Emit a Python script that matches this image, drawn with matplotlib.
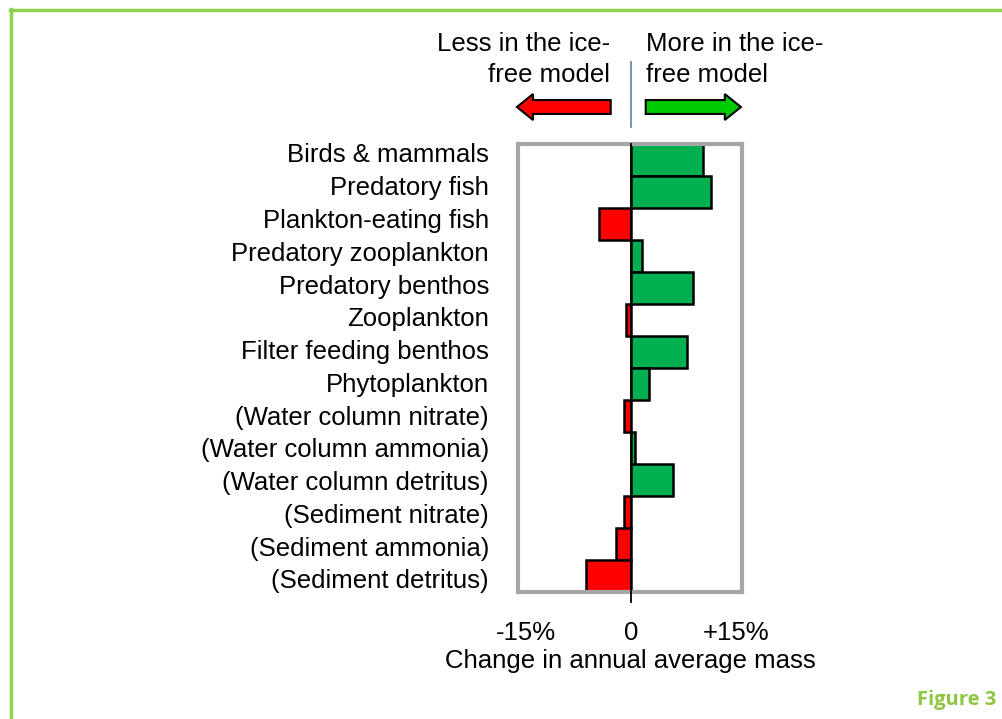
import matplotlib
matplotlib.use("Agg")
import matplotlib.pyplot as plt
from matplotlib.patches import FancyArrow
from matplotlib.lines import Line2D
from matplotlib.transforms import blended_transform_factory

plt.rcParams['font.family'] = ['Liberation Sans', 'DejaVu Sans']

categories = ["Birds & mammals", "Predatory fish", "Plankton-eating fish",
              "Predatory zooplankton", "Predatory benthos", "Zooplankton",
              "Filter feeding benthos", "Phytoplankton",
              "(Water column nitrate)", "(Water column ammonia)",
              "(Water column detritus)", "(Sediment nitrate)",
              "(Sediment ammonia)", "(Sediment detritus)"]
change = [10.3, 11.5, -4.6, 1.6, 8.9, -0.7, 8.0, 2.6,
          -0.9, 0.6, 6.0, -1.0, -2.1, -6.4]
xticks = [-15, 0, 15]
xticklabels = ["-15%", "0", "+15%"]

green = "#00b050"
red = "#ff0000"
frame_green = "#92d050"

fig = plt.figure(figsize=(10.03, 7.19), dpi=100)
ax = fig.add_axes([0.5165, 0.1766, 0.2233, 0.6231])

n = len(categories)
colors = [green if v > 0 else red for v in change]
ax.barh(range(n), change, height=1.0, color=colors,
        edgecolor="black", linewidth=1.8, zorder=2)
ax.set_ylim(n - 0.5, -0.5)
ax.set_xlim(-16.1, 15.9)
# the label column in the original is a bit taller than the bar stack
ax.set_yticks([-0.22 + 1.024 * i for i in range(n)])
ax.set_yticklabels(categories, fontsize=18.5)
ax.set_xticks(xticks)
ax.set_xticklabels(xticklabels, fontsize=18.5)
ax.tick_params(axis="both", length=0)
ax.tick_params(axis="y", pad=21)
ax.tick_params(axis="x", pad=21)
ax.set_xlabel("Change in annual average mass", fontsize=18.5, labelpad=3)
for s in ax.spines.values():
    s.set_color("#a6a6a6")
    s.set_linewidth(3)

# zero line running slightly below the box
ax.axvline(0, ymin=-0.022, ymax=1, color="black", linewidth=1.3,
           clip_on=False, zorder=3)

# direction hints above the box
tr = blended_transform_factory(ax.transData, ax.transAxes)
ax.plot([0, 0], [1.038, 1.183], color="#5b7fa6", linewidth=1.2,
        transform=tr, clip_on=False)
ax.add_patch(FancyArrow(-2.86, 1.0826, -13.4, 0, width=0.031,
                        head_width=0.058, head_length=2.3,
                        length_includes_head=True, facecolor=red,
                        edgecolor="black", linewidth=1.5, transform=tr,
                        clip_on=False))
ax.add_patch(FancyArrow(2.14, 1.0826, 13.6, 0, width=0.031,
                        head_width=0.058, head_length=2.3,
                        length_includes_head=True, facecolor="#00cc00",
                        edgecolor="black", linewidth=1.5, transform=tr,
                        clip_on=False))
ax.text(-3.0, 1.188, "Less in the ice-\nfree model", ha="right", va="center",
        fontsize=18.5, transform=tr, multialignment="right", linespacing=1.38)
ax.text(2.14, 1.188, "More in the ice-\nfree model", ha="left", va="center",
        fontsize=18.5, transform=tr, multialignment="left", linespacing=1.38)

# page frame and figure tag
fig.add_artist(Line2D([0.01, 1.0], [0.986, 0.986], color=frame_green,
                      linewidth=2.5, transform=fig.transFigure))
fig.add_artist(Line2D([0.011, 0.011], [0.0, 0.987], color=frame_green,
                      linewidth=2.5, transform=fig.transFigure))
fig.text(0.993, 0.026, "Figure 3", ha="right", va="center", fontsize=14.5,
         fontweight="bold", color="#8dc63f", family=["Open Sans", "DejaVu Sans"])

fig.savefig("out.png", dpi=100)
